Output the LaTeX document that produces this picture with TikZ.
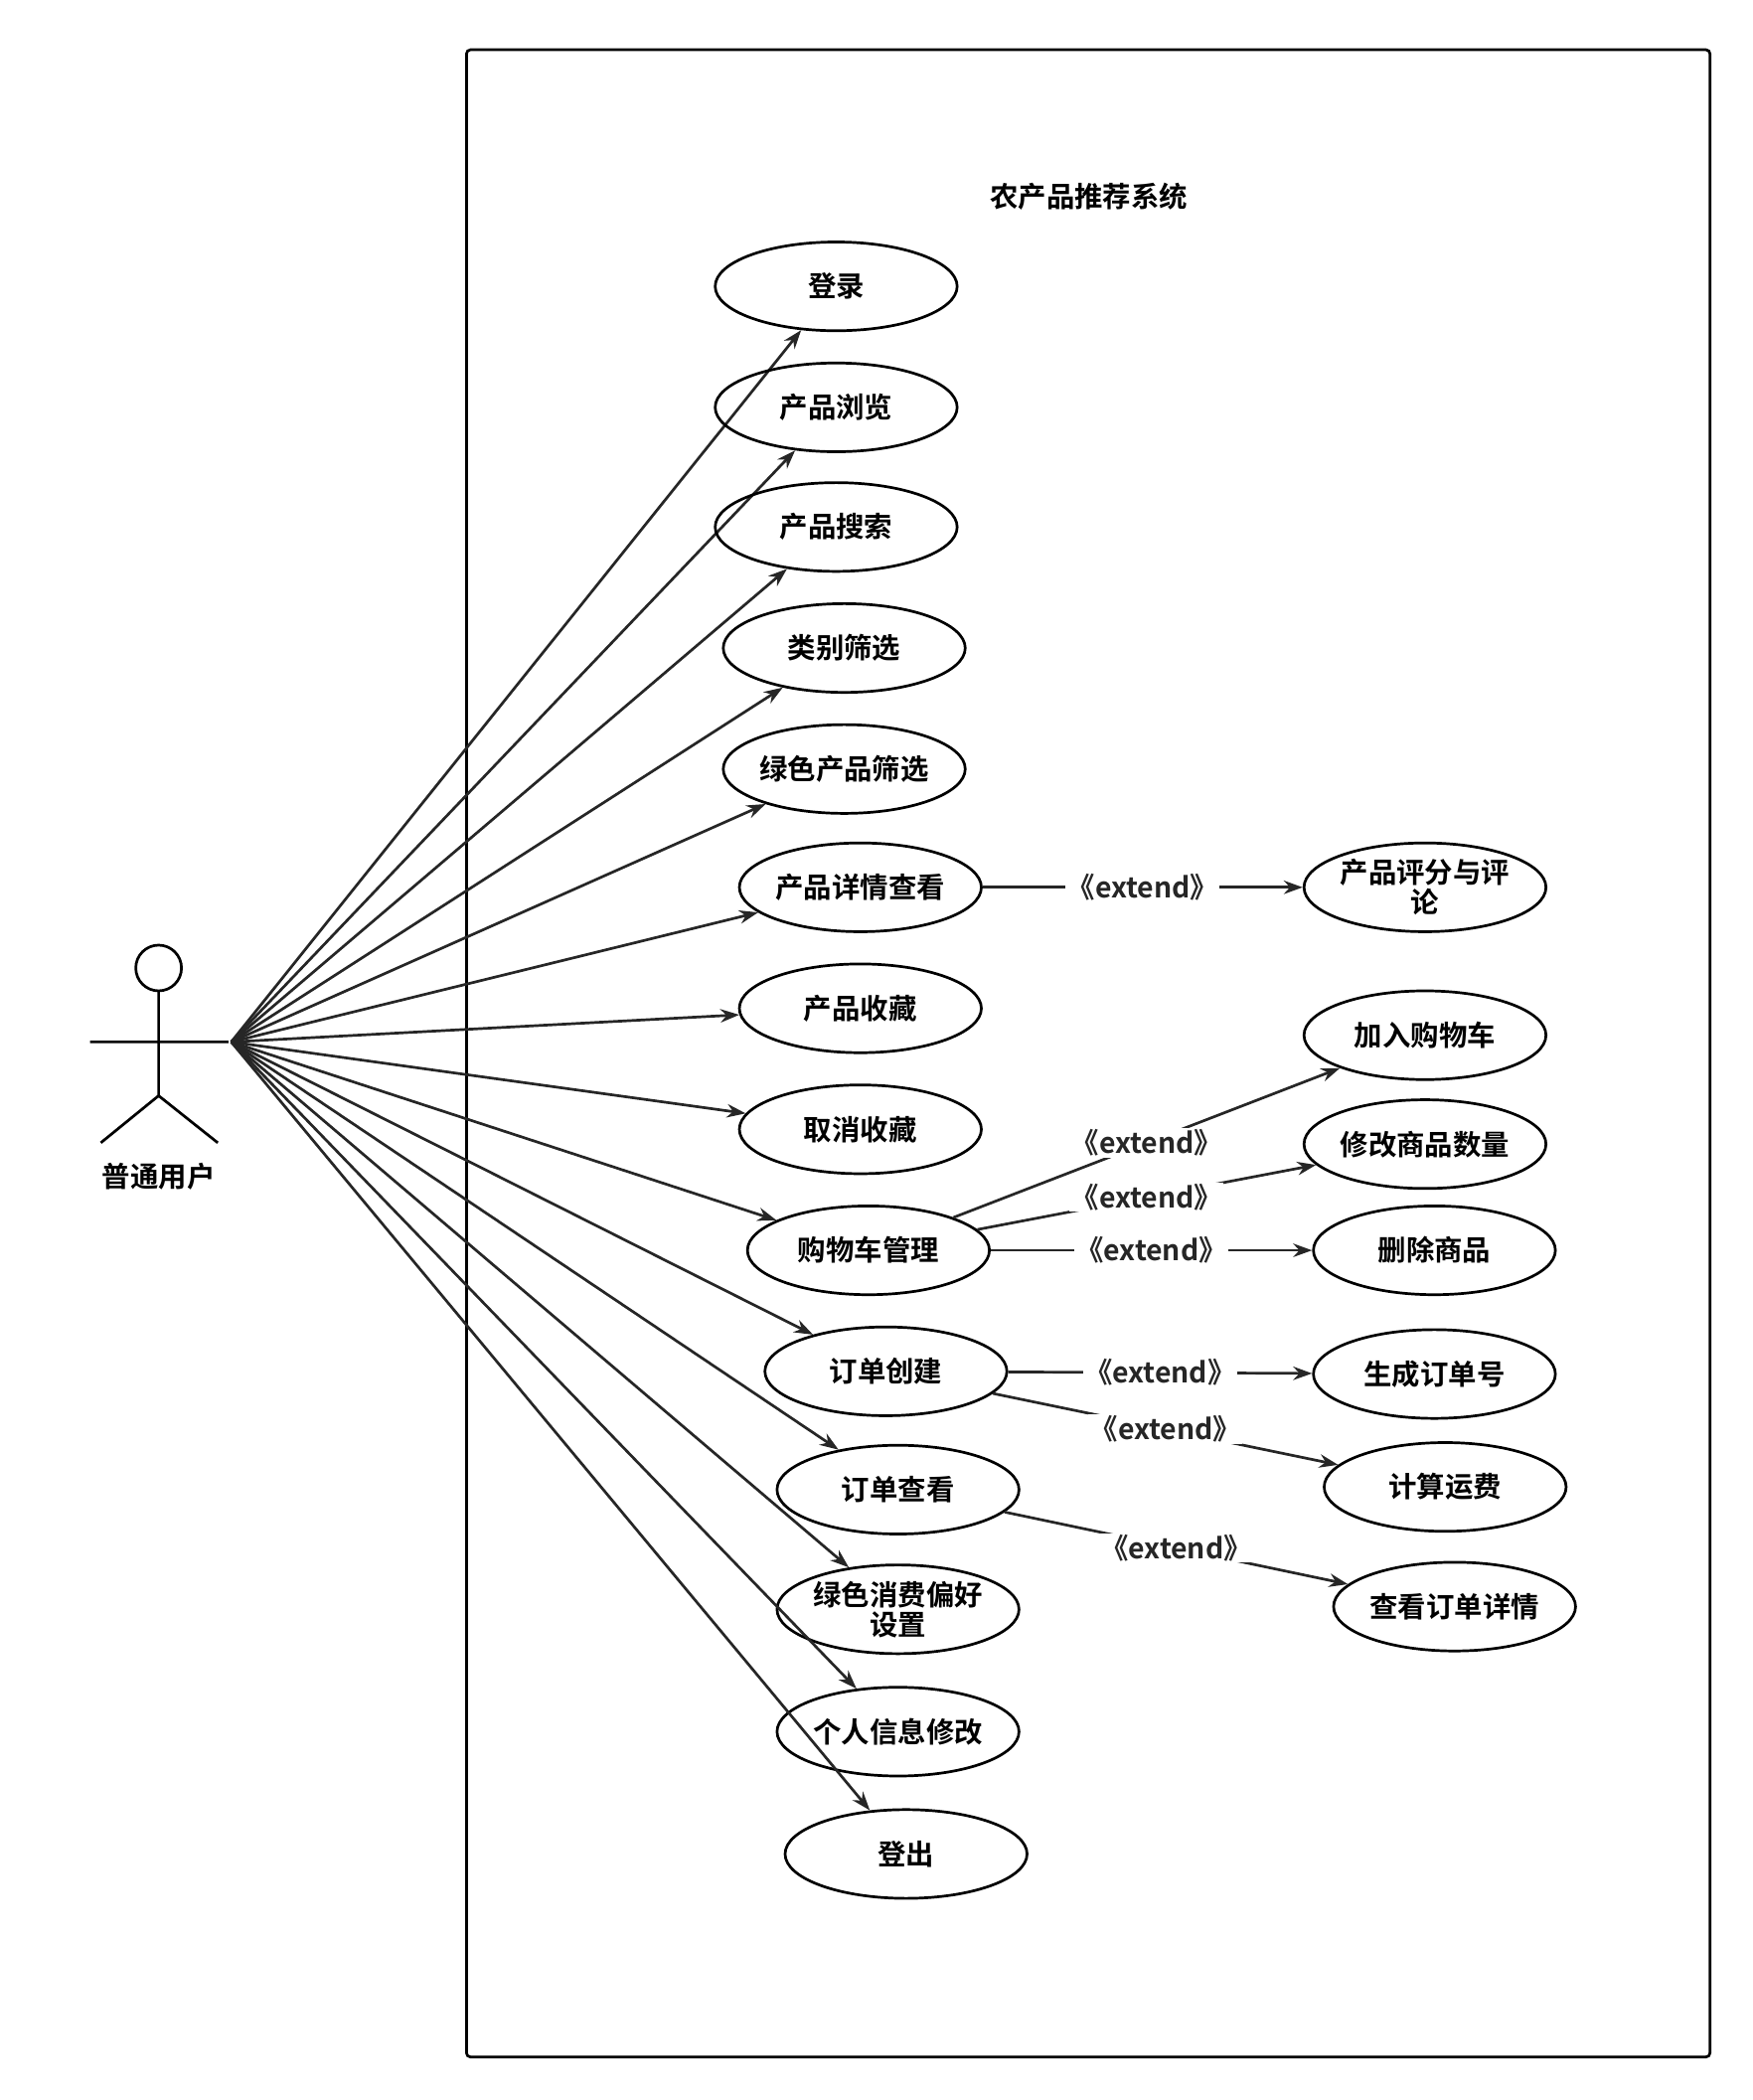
\documentclass[tikz,border=0pt]{standalone}
\usepackage{fontspec}
\setmainfont{Noto Sans CJK SC}[BoldFont={* Bold}]
\usetikzlibrary{shapes.geometric, arrows.meta, positioning}
\begin{document}
\begin{tikzpicture}[x=1pt,y=-1pt,line width=2pt,
  uc/.style={ellipse, draw, minimum width=180pt, minimum height=66pt, inner sep=0pt,
    align=center, font=\fontsize{21}{22}\selectfont\bfseries},
  assoc/.style={-{Stealth[length=14pt,width=10pt]}, color=black!85},
  ext/.style={fill=white, inner sep=1pt, font=\fontsize{21}{22}\selectfont\bfseries}]
\useasboundingbox (0,0) rectangle (1304,1562);
% system boundary
\draw[rounded corners=3pt] (347,37) rectangle (1272,1530);
\node[font=\fontsize{21}{22}\selectfont\bfseries] (title) at (810,146) {农产品推荐系统};
% actor
\draw (118,720) circle (17);
\draw (118,737) -- (118,815) (67,775) -- (170,775)
      (75,850) -- (118,815) -- (162,850);
\coordinate (user) at (172,775);
\node[font=\fontsize{21}{22}\selectfont\bfseries] (userlbl) at (118,875) {普通用户};
% use cases
\foreach \n/\x/\y/\t in {login/622/213/登录/注册, browse/622/303/产品浏览,
    search/622/392/产品搜索, cat/628/482/类别筛选, green/628/572/绿色产品筛选,
    detail/640/660/产品详情查看, fav/640/750/产品收藏, unfav/640/840/取消收藏,
    cart/646/930/购物车管理, order/659/1020/订单创建, oview/668/1108/订单查看,
    pref/668/1197/{绿色消费偏好\\设置}, info/668/1288/个人信息修改, logout/674/1379/登出} {
  \node[uc] (\n) at (\x,\y) {\t};
  \draw[assoc] (user) -- (\n);
}
% extensions
\node[uc] (rate) at (1060,660) {产品评分与评\\论};
\node[uc] (add) at (1060,770) {加入购物车};
\node[uc] (qty) at (1060,851) {修改商品数量};
\node[uc] (del) at (1067,930) {删除商品};
\node[uc] (ono) at (1067,1022) {生成订单号};
\node[uc] (fee) at (1075,1106) {计算运费};
\node[uc] (odet) at (1082,1195) {查看订单详情};
\foreach \a/\b in {detail/rate, cart/add, cart/qty, cart/del, order/ono, order/fee, oview/odet}
  \draw[assoc] (\a) -- node[ext] {《extend》} (\b);
\end{tikzpicture}
\end{document}
